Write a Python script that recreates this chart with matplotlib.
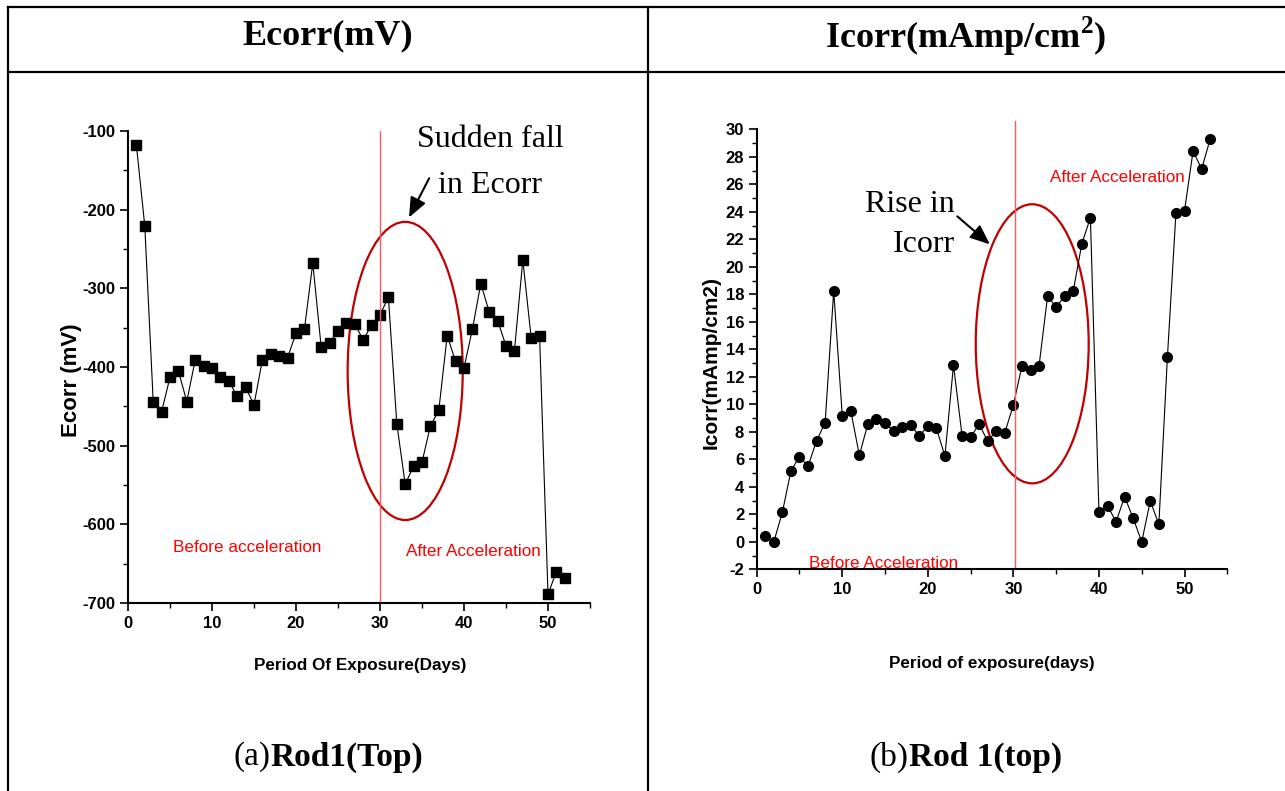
import matplotlib
matplotlib.use("Agg")
import matplotlib.pyplot as plt
from matplotlib.patches import Ellipse
from matplotlib.lines import Line2D
from matplotlib.ticker import MultipleLocator

plt.rcParams['axes.unicode_minus'] = False
plt.rcParams['mathtext.fontset'] = 'custom'
plt.rcParams['mathtext.rm'] = 'Liberation Serif:bold'
plt.rcParams['mathtext.bf'] = 'Liberation Serif:bold'

# --- data ---
days_e = list(range(1, 53))
ecorr = [-118, -221, -444, -457, -413, -405, -444, -391, -399, -401,
         -413, -418, -437, -426, -448, -391, -384, -386, -388, -357,
         -352, -268, -375, -369, -354, -344, -345, -366, -346, -334,
         -311, -472, -549, -526, -521, -475, -455, -360, -393, -401,
         -352, -294, -330, -341, -373, -380, -264, -363, -361, -689,
         -660, -668]

days_i = list(range(1, 54))
icorr = [0.4, 0.0, 2.15, 5.15, 6.2, 5.5, 7.35, 8.67, 18.24, 9.17,
         9.51, 6.29, 8.59, 8.93, 8.62, 8.08, 8.33, 8.5, 7.7, 8.42,
         8.25, 6.24, 12.86, 7.72, 7.6, 8.57, 7.3, 8.08, 7.94, 9.95,
         12.79, 12.5, 12.81, 17.88, 17.05, 17.9, 18.26, 21.68, 23.57, 2.19,
         2.6, 1.46, 3.28, 1.71, 0.0, 2.97, 1.27, 13.42, 23.94, 24.08,
         28.42, 27.11, 29.29]

accel_day_e = 30.0
accel_day_i = 30.2

headers = ["Ecorr(mV)", "Icorr(mAmp/cm$^{\\mathbf{2}}$)"]
captions = [("(a)", "Rod1(Top)"), ("(b)", "Rod 1(top)")]

sans = ['Liberation Sans']
serif = ['Liberation Serif']

W, H = 1285, 791
fig = plt.figure(figsize=(W / 100, H / 100), dpi=100)


def px(x0, y0, x1, y1):
    # pixel box -> figure fraction rect
    return [x0 / W, 1 - y1 / H, (x1 - x0) / W, (y1 - y0) / H]


# table grid
for (xa, ya, xb, yb) in [(8, 7, W, 7), (8, 72, W, 72), (8, 7, 8, H), (648, 7, 648, H)]:
    fig.add_artist(Line2D([xa / W, xb / W], [1 - ya / H, 1 - yb / H],
                          color='black', lw=1.6, transform=fig.transFigure))

fig.text(328 / W, 1 - 36 / H, headers[0], ha='center', va='center',
         family=serif, weight='bold', fontsize=26)
fig.text(966 / W, 1 - 36 / H, headers[1], ha='center', va='center',
         family=serif, weight='bold', fontsize=26)


def style_axes(ax):
    for s in ['top', 'right']:
        ax.spines[s].set_visible(False)
    for s in ['left', 'bottom']:
        ax.spines[s].set_linewidth(1.5)
    ax.tick_params(which='major', direction='out', length=6, width=1.2, pad=3)
    ax.tick_params(which='minor', direction='out', length=3.5, width=1.0)
    for lab in ax.get_xticklabels() + ax.get_yticklabels():
        lab.set_family(sans)
        lab.set_weight('bold')
        lab.set_fontsize(12)


# --- left panel: Ecorr ---
ax1 = fig.add_axes(px(128, 131, 590, 603))
ax1.plot(days_e, ecorr, color='black', lw=0.8, marker='s', ms=6.5,
         mfc='black', mec='black')
ax1.set_xlim(0, 55)
ax1.set_ylim(-700, -100)
ax1.xaxis.set_major_locator(MultipleLocator(10))
ax1.xaxis.set_minor_locator(MultipleLocator(5))
ax1.yaxis.set_major_locator(MultipleLocator(100))
ax1.yaxis.set_minor_locator(MultipleLocator(50))
style_axes(ax1)
ax1.axvline(accel_day_e, color='#ff5a5a', lw=1.0)
ax1.add_patch(Ellipse((33.0, -405), 13.7, 379, fill=False, ec='#c00000', lw=1.6))
ax1.annotate('', xy=(33.3, -213), xytext=(36.0, -157),
             arrowprops=dict(arrowstyle='-|>,head_length=0.6,head_width=0.25',
                             color='black', lw=1.5, mutation_scale=20))
ax1.text(43.1, -111, "Sudden fall", ha='center', va='center', family=serif, fontsize=23)
ax1.text(43.1, -169, "in Ecorr", ha='center', va='center', family=serif, fontsize=23)
ax1.text(5.4, -629, "Before acceleration", ha='left', va='center', color='red',
         family=sans, fontsize=12.3)
ax1.text(33.1, -634, "After Acceleration", ha='left', va='center', color='red',
         family=sans, fontsize=12.3)
ax1.set_xlabel("Period Of Exposure(Days)", family=sans, weight='bold', fontsize=12.3)
ax1.set_ylabel("Ecorr (mV)", family=sans, weight='bold', fontsize=16)
ax1.xaxis.set_label_coords(0.502, -0.117)
ax1.yaxis.set_label_coords(-0.10, 0.472)

# --- right panel: Icorr ---
ax2 = fig.add_axes(px(756.7, 129.3, 1227.3, 569.3))
ax2.plot(days_i, icorr, color='black', lw=0.8, marker='o', ms=7,
         mfc='black', mec='black')
ax2.set_xlim(0, 55)
ax2.set_ylim(-2, 30)
ax2.xaxis.set_major_locator(MultipleLocator(10))
ax2.xaxis.set_minor_locator(MultipleLocator(5))
ax2.yaxis.set_major_locator(MultipleLocator(2))
ax2.yaxis.set_minor_locator(MultipleLocator(1))
style_axes(ax2)
ax2.plot([accel_day_i, accel_day_i], [-2, 30.6], color='#ff5a5a', lw=1.0, clip_on=False)
ax2.add_patch(Ellipse((32.2, 14.4), 13.2, 20.3, fill=False, ec='#c00000', lw=1.6))
ax2.annotate('', xy=(27.5, 21.5), xytext=(23.2, 23.8),
             arrowprops=dict(arrowstyle='-|>,head_length=0.6,head_width=0.25',
                             color='black', lw=1.5, mutation_scale=20))
ax2.text(23.2, 24.5, "Rise in", ha='right', va='center', family=serif, fontsize=23)
ax2.text(23.2, 21.6, "Icorr", ha='right', va='center', family=serif, fontsize=23)
ax2.text(6.1, -1.6, "Before Acceleration", ha='left', va='center', color='red',
         family=sans, fontsize=12.3)
ax2.text(34.3, 26.5, "After Acceleration", ha='left', va='center', color='red',
         family=sans, fontsize=12.3)
ax2.set_xlabel("Period of exposure(days)", family=sans, weight='bold', fontsize=12.3)
ax2.set_ylabel("Icorr(mAmp/cm2)", family=sans, weight='bold', fontsize=15)
ax2.xaxis.set_label_coords(0.5, -0.198)
ax2.yaxis.set_label_coords(-0.076, 0.469)

# captions: regular prefix + bold rest, centred in each cell
renderer = fig.canvas.get_renderer()
for cx, (pre, rest) in zip([328, 966], captions):
    t1 = fig.text(0, 1 - 757 / H, pre, va='center', family=serif, fontsize=24)
    t2 = fig.text(0, 1 - 757 / H, rest, va='center', family=serif, weight='bold', fontsize=24)
    w1 = t1.get_window_extent(renderer).width
    w2 = t2.get_window_extent(renderer).width
    left = cx - (w1 + w2) / 2
    t1.set_x(left / W)
    t2.set_x((left + w1) / W)

fig.savefig("out.png", dpi=100)
